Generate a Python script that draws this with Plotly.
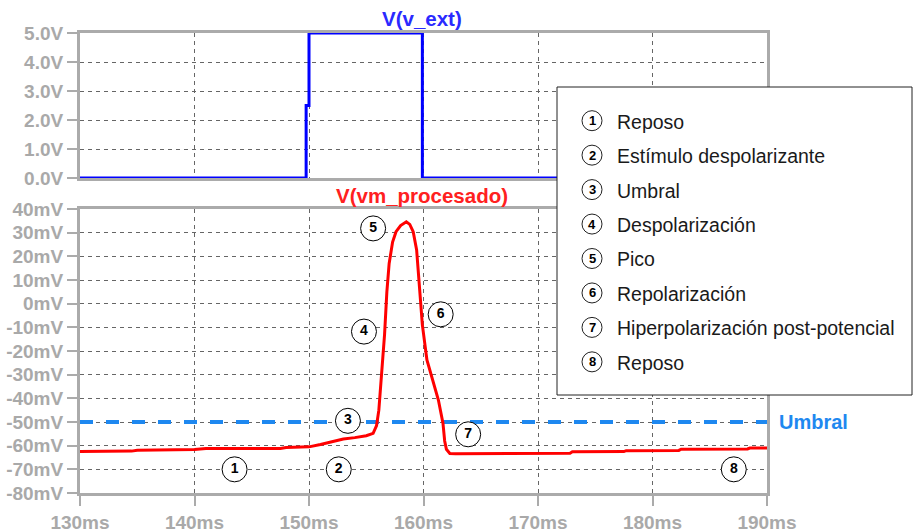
import plotly.graph_objects as go

# ---------------- data ----------------
t_ext = [130, 149.75, 149.75, 150.0, 150.0, 159.9, 159.9, 190]
v_ext = [0, 0, 2.5, 2.5, 5, 5, 0, 0]

t_vm = [130, 134.5, 135, 140, 141, 147.5, 148, 150, 151, 152, 153, 154, 155,
        155.6, 155.9, 156.1, 156.3, 156.6, 156.8, 157.0, 157.3, 157.6, 158.0,
        158.5, 158.8, 159.1, 159.4, 159.6, 159.9, 160.3, 160.8, 161.3, 161.7,
        161.85, 162.0, 162.3, 162.8, 172.8, 173.0, 177.5, 177.7, 182.3, 182.5,
        188.3, 188.5, 190]
vm = [-62.5, -62.3, -61.9, -61.6, -61.2, -61.2, -60.8, -60.5, -59.5, -58.2,
      -57.2, -56.6, -55.8, -54.8, -51.5, -45, -33, -13, 5, 17, 26, 30.4, 33,
      34.6, 33.5, 30.4, 22.7, 10, -9, -23.8, -32, -40.7, -50.5, -58, -61.5,
      -63.3, -63.4, -63.2, -62.6, -62.5, -62.1, -62.0, -61.5, -61.4, -61.0, -61.0]

umbral_mv = -50

lab_num = ["1", "2", "3", "4", "5", "6", "7", "8"]
lab_t = [143.5, 152.6, 153.4, 154.8, 155.6, 161.5, 163.9, 187.1]
lab_v = [-70, -70, -49.5, -11.8, 31.8, -4.5, -55.2, -70]

legend_items = ["Reposo", "Estímulo despolarizante", "Umbral", "Despolarización",
                "Pico", "Repolarización", "Hiperpolarización post-potencial", "Reposo"]

x_ticks = [130, 140, 150, 160, 170, 180, 190]
x_ticktext = ["130ms", "140ms", "150ms", "160ms", "170ms", "180ms", "190ms"]
y1_ticks = [0, 1, 2, 3, 4, 5]
y1_ticktext = ["0.0V", "1.0V", "2.0V", "3.0V", "4.0V", "5.0V"]
y2_ticks = [40, 30, 20, 10, 0, -10, -20, -30, -40, -50, -60, -70, -80]
y2_ticktext = ["40mV", "30mV", "20mV", "10mV", "0mV", "-10mV", "-20mV", "-30mV",
               "-40mV", "-50mV", "-60mV", "-70mV", "-80mV"]

# ---------------- layout helpers ----------------
W, H = 914, 532
FONT = "Liberation Sans, Arial, sans-serif"
AX_COL = "#ababab"
GRID_COL = "#666666"
TICK_FONT = dict(family=FONT, size=19, color="#a9a9a9", weight="bold")

def px(x):
    return x / W

def py(y):
    return 1 - y / H

xdom = [px(80), px(767)]

fig = go.Figure()

fig.add_trace(go.Scatter(x=t_ext, y=v_ext, mode="lines",
                         line=dict(color="#0000ff", width=3),
                         xaxis="x", yaxis="y", hoverinfo="skip"))

fig.add_trace(go.Scatter(x=[130, 190], y=[umbral_mv, umbral_mv], mode="lines",
                         line=dict(color="#1e88f0", width=4, dash="13px,13px"),
                         xaxis="x2", yaxis="y2", hoverinfo="skip"))

fig.add_trace(go.Scatter(x=t_vm, y=vm, mode="lines",
                         line=dict(color="#ff0000", width=3),
                         xaxis="x2", yaxis="y2", hoverinfo="skip"))

fig.add_trace(go.Scatter(x=lab_t, y=lab_v, mode="markers+text", text=lab_num,
                         textposition="middle center",
                         textfont=dict(family=FONT, size=14, color="black", weight="bold"),
                         marker=dict(size=25, color="white",
                                     line=dict(color="black", width=1)),
                         xaxis="x2", yaxis="y2", hoverinfo="skip", cliponaxis=False))

common_axis = dict(showline=True, mirror=True, linecolor=AX_COL, linewidth=3,
                   showgrid=True, gridcolor=GRID_COL, gridwidth=1, griddash="4px,4px",
                   zeroline=False, tickfont=TICK_FONT, tickcolor=AX_COL, tickwidth=2,
                   automargin=False)

fig.update_layout(
    width=W, height=H,
    margin=dict(l=0, r=0, t=0, b=0),
    paper_bgcolor="white", plot_bgcolor="white",
    showlegend=False,
    xaxis=dict(domain=xdom, range=[130, 190], anchor="y", tickvals=x_ticks,
               showticklabels=False, ticks="", **common_axis),
    yaxis=dict(domain=[py(178), py(33)], range=[0, 5], anchor="x",
               tickvals=y1_ticks, ticktext=y1_ticktext, ticks="outside", ticklen=10,
               **common_axis),
    xaxis2=dict(domain=xdom, range=[130, 190], anchor="y2", tickvals=x_ticks,
                ticktext=x_ticktext, ticks="outside", ticklen=10, **common_axis),
    yaxis2=dict(domain=[py(493), py(209)], range=[-80, 40], anchor="x2",
                tickvals=y2_ticks, ticktext=y2_ticktext, ticks="outside", ticklen=10,
                **common_axis),
)

annotations = [
    dict(text="V(v_ext)", x=px(422), y=py(18), xref="paper", yref="paper",
         showarrow=False, xanchor="center", yanchor="middle",
         font=dict(family=FONT, size=20.5, color="#2a2aff", weight="bold")),
    dict(text="V(vm_procesado)", x=px(422), y=py(195), xref="paper", yref="paper",
         showarrow=False, xanchor="center", yanchor="middle",
         font=dict(family=FONT, size=20.5, color="#ff2020", weight="bold")),
    dict(text="Umbral", x=px(777), y=umbral_mv, xref="paper", yref="y2",
         showarrow=False, xanchor="left", yanchor="middle",
         font=dict(family=FONT, size=20, color="#1e88f0", weight="bold")),
]

shapes = [
    dict(type="rect", xref="paper", yref="paper", x0=px(557), x1=px(912),
         y0=py(395), y1=py(87), line=dict(color="#222222", width=1),
         fillcolor="white", layer="above"),
]

row_y0 = 120.7
row_dy = 34.45
for i, label in enumerate(legend_items):
    cy = row_y0 + i * row_dy
    shapes.append(dict(type="circle", xref="paper", yref="paper",
                       xsizemode="pixel", ysizemode="pixel",
                       xanchor=px(592), yanchor=py(cy),
                       x0=-10, x1=10, y0=-10, y1=10,
                       line=dict(color="#222222", width=1), fillcolor="white",
                       layer="above"))
    annotations.append(dict(text=lab_num[i], x=px(592), y=py(cy), xref="paper",
                            yref="paper", showarrow=False, xanchor="center",
                            yanchor="middle",
                            font=dict(family=FONT, size=13, color="black", weight="bold")))
    annotations.append(dict(text=label, x=px(615), y=py(cy + 1), xref="paper",
                            yref="paper", showarrow=False, xanchor="left",
                            yanchor="middle",
                            font=dict(family=FONT, size=19.5, color="#1a1a1a")))

fig.update_layout(shapes=shapes, annotations=annotations)

fig.write_html("out.html")
